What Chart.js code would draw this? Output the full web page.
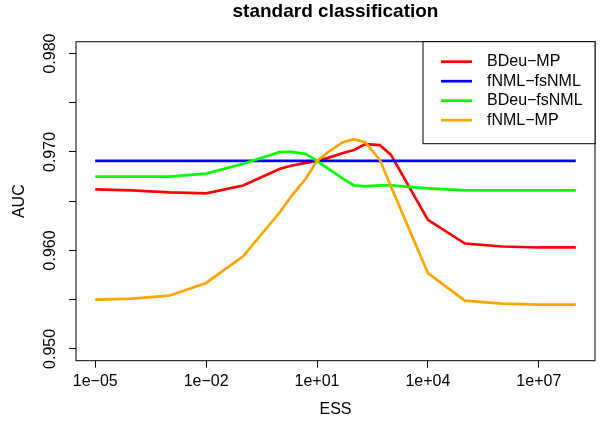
<!DOCTYPE html>
<html>
  <head>
    <meta charset="utf-8">
    <title>standard classification</title>
    <script src="https://cdn.jsdelivr.net/npm/chart.js"></script>
    <style>
      body { margin: 0; background: #fff; }
    </style>
  </head>
  <body>
    <canvas id="aucChart" width="601" height="425"></canvas>
    <script>
      // ESS values used for every curve
      const ess = [1e-5, 1e-4, 1e-3, 1e-2, 1e-1, 1, 2, 5, 10, 20, 50, 100, 200, 500, 1000, 1e4, 1e5, 1e6, 1e7, 1e8];

      // AUC per scoring combination
      const bdeuMP = [0.9662, 0.9661, 0.9659, 0.9658, 0.9666, 0.9683, 0.9686, 0.9689, 0.9691, 0.9694, 0.9699, 0.9702, 0.9708, 0.9707, 0.9697, 0.9631, 0.9607, 0.9604, 0.9603, 0.9603];
      const fnmlFsnml = [0.9691, 0.9691, 0.9691, 0.9691, 0.9691, 0.9691, 0.9691, 0.9691, 0.9691, 0.9691, 0.9691, 0.9691, 0.9691, 0.9691, 0.9691, 0.9691, 0.9691, 0.9691, 0.9691, 0.9691];
      const bdeuFsnml = [0.9675, 0.9675, 0.9675, 0.9678, 0.9688, 0.9700, 0.9700, 0.9698, 0.9691, 0.9683, 0.9673, 0.9666, 0.9665, 0.9666, 0.9666, 0.9663, 0.9661, 0.9661, 0.9661, 0.9661];
      const fnmlMP = [0.9550, 0.9551, 0.9554, 0.9567, 0.9594, 0.9639, 0.9655, 0.9673, 0.9691, 0.9700, 0.9710, 0.9713, 0.9710, 0.9692, 0.9665, 0.9577, 0.9549, 0.9546, 0.9545, 0.9545];

      const seriesNames = ['BDeu\u2212MP', 'fNML\u2212fsNML', 'BDeu\u2212fsNML', 'fNML\u2212MP'];
      const seriesColors = ['#ff0000', '#0000ff', '#00ff00', '#ffa500'];

      // axis ticks and their labels
      const xTicks = [1e-5, 1e-2, 1e1, 1e4, 1e7];
      const xTickLabels = ['1e\u221205', '1e\u221202', '1e+01', '1e+04', '1e+07'];
      const yTicks = [0.950, 0.955, 0.960, 0.965, 0.970, 0.975, 0.980];
      const yTickLabels = ['0.950', '', '0.960', '', '0.970', '', '0.980'];

      const FONT = '"Liberation Sans", Arial, Helvetica, sans-serif';

      const makeSet = (values, i) => ({
        label: seriesNames[i],
        data: ess.map((x, j) => ({ x: x, y: values[j] })),
        borderColor: seriesColors[i],
        borderWidth: 2.7,
        pointRadius: 0,
        tension: 0,
        fill: false,
        order: 4 - i
      });

      // box, titles and legend drawn the way R base graphics does
      const decorations = {
        id: 'decorations',
        afterDraw(chart) {
          const ctx = chart.ctx;
          const area = chart.chartArea;
          ctx.save();
          ctx.strokeStyle = '#000';
          ctx.lineWidth = 1;
          ctx.strokeRect(area.left, area.top, area.right - area.left, area.bottom - area.top);

          ctx.fillStyle = '#000';
          ctx.textAlign = 'center';
          ctx.textBaseline = 'middle';
          const cx = (area.left + area.right) / 2;
          ctx.font = 'bold 19px ' + FONT;
          ctx.fillText('standard classification', cx, 12);
          ctx.font = '16px ' + FONT;
          ctx.fillText('ESS', cx, 410);
          ctx.save();
          ctx.translate(20, (area.top + area.bottom) / 2);
          ctx.rotate(-Math.PI / 2);
          ctx.fillText('AUC', 0, 0);
          ctx.restore();

          // legend in the top-right corner
          const w = 172, h = 102;
          const lx = area.right - w, ly = area.top;
          ctx.fillStyle = '#fff';
          ctx.fillRect(lx, ly, w, h);
          ctx.strokeRect(lx, ly, w, h);
          ctx.textAlign = 'left';
          chart.data.datasets.forEach((ds, i) => {
            const rowY = ly + 20 + i * 19.5;
            ctx.strokeStyle = ds.borderColor;
            ctx.lineWidth = 2.7;
            ctx.beginPath();
            ctx.moveTo(lx + 18, rowY);
            ctx.lineTo(lx + 49, rowY);
            ctx.stroke();
            ctx.fillStyle = '#000';
            ctx.fillText(ds.label, lx + 64, rowY);
          });
          ctx.restore();
        }
      };

      const ctx = document.getElementById('aucChart').getContext('2d');
      new Chart(ctx, {
        type: 'line',
        data: {
          datasets: [bdeuMP, fnmlFsnml, bdeuFsnml, fnmlMP].map(makeSet)
        },
        options: {
          responsive: false,
          animation: false,
          layout: { padding: { top: 41.7, right: 6, left: 0, bottom: 0 } },
          plugins: {
            legend: { display: false },
            tooltip: { enabled: false }
          },
          scales: {
            x: {
              type: 'logarithmic',
              min: Math.pow(10, -5.52),
              max: Math.pow(10, 8.52),
              afterBuildTicks: (scale) => { scale.ticks = xTicks.map(v => ({ value: v })); },
              afterFit: (scale) => { scale.height = 64.3; },
              grid: { drawOnChartArea: false, drawTicks: true, tickLength: 7, color: '#000' },
              border: { display: false },
              ticks: {
                autoSkip: false,
                maxRotation: 0,
                padding: 4,
                color: '#000',
                font: { family: FONT, size: 16 },
                callback: (v, i) => xTickLabels[i]
              }
            },
            y: {
              type: 'linear',
              min: 0.9488,
              max: 0.9812,
              afterBuildTicks: (scale) => { scale.ticks = yTicks.map(v => ({ value: v })); },
              afterFit: (scale) => { scale.width = 76; },
              grid: { drawOnChartArea: false, drawTicks: true, tickLength: 7, color: '#000' },
              border: { display: false },
              ticks: {
                autoSkip: false,
                minRotation: 90,
                maxRotation: 90,
                crossAlign: 'center',
                padding: -2,
                color: '#000',
                font: { family: FONT, size: 16 },
                callback: (v, i) => yTickLabels[i]
              }
            }
          }
        },
        plugins: [decorations]
      });
    </script>
  </body>
</html>
